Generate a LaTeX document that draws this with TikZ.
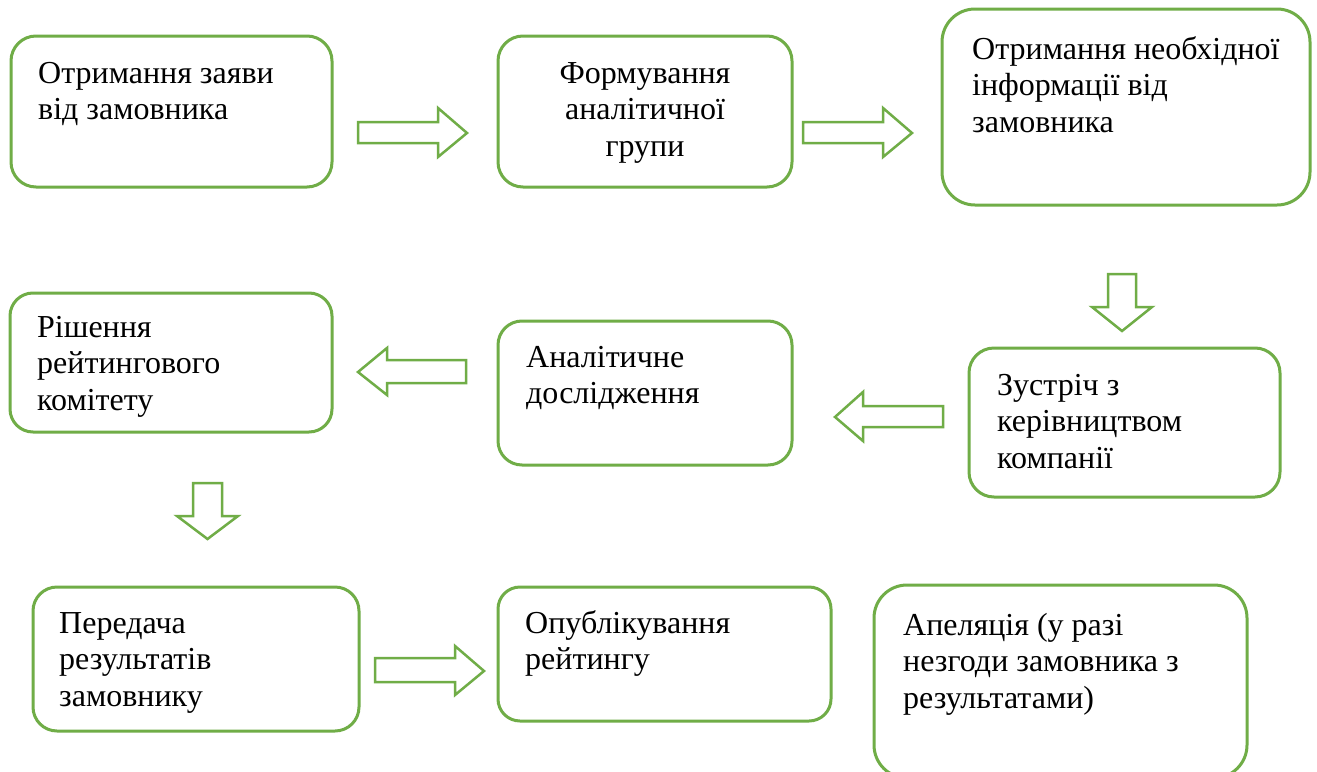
\documentclass[tikz,border=0pt]{standalone}
\usepackage{fontspec}
\setmainfont{Liberation Serif}
\definecolor{grn}{RGB}{112,173,71}
\tikzset{
  box/.style={draw=grn, line width=3pt, fill=white, rectangle, rounded corners=#1, inner sep=0pt},
  box/.default=25pt,
  txt/.style={inner sep=0pt, anchor=base west, font=\fontsize{32}{36.5}\selectfont},
  txtc/.style={inner sep=0pt, anchor=base, font=\fontsize{32}{36.5}\selectfont},
  blockarrow/.style={draw=grn, line width=2.5pt, fill=white, line join=miter}
}
\begin{document}
\begin{tikzpicture}[x=1pt,y=-1pt]
\useasboundingbox[fill=white] (0,0) rectangle (1317,771);
% boxes
\node[box=25pt, minimum width=321pt, minimum height=151pt] (b1) at (171.5,111.5) {};
\node[box=25pt, minimum width=294pt, minimum height=151pt] (b2) at (645,111.5) {};
\node[box=33pt, minimum width=368pt, minimum height=196pt] (b3) at (1126,107) {};
\node[box=23pt, minimum width=322pt, minimum height=139pt] (b4) at (171,362.5) {};
\node[box=24pt, minimum width=294pt, minimum height=144pt] (b5) at (645,393) {};
\node[box=25pt, minimum width=311pt, minimum height=149pt] (b6) at (1124.5,422.5) {};
\node[box=24pt, minimum width=326pt, minimum height=144pt] (b7) at (196,659) {};
\node[box=22pt, minimum width=333pt, minimum height=134pt] (b8) at (664.5,654) {};
\node[box=33pt, minimum width=373pt, minimum height=193pt] (b9) at (1060.5,681.5) {};
% texts
\node[txt] (t1) at (38,83) {\begin{tabular}[t]{@{}l@{}}Отримання заяви\\від замовника\end{tabular}};
\node[txtc] (t2) at (645,83) {\begin{tabular}[t]{@{}c@{}}Формування\\аналітичної\\групи\end{tabular}};
\node[txt] (t3) at (972,59) {\begin{tabular}[t]{@{}l@{}}Отримання необхідної\\інформації від\\замовника\end{tabular}};
\node[txt] (t4) at (37,337) {\begin{tabular}[t]{@{}l@{}}Рішення\\рейтингового\\комітету\end{tabular}};
\node[txt] (t5) at (526,367) {\begin{tabular}[t]{@{}l@{}}Аналітичне\\дослідження\end{tabular}};
\node[txt] (t6) at (997,395) {\begin{tabular}[t]{@{}l@{}}Зустріч з\\керівництвом\\компанії\end{tabular}};
\node[txt] (t7) at (59,633) {\begin{tabular}[t]{@{}l@{}}Передача\\результатів\\замовнику\end{tabular}};
\node[txt] (t8) at (525,633) {\begin{tabular}[t]{@{}l@{}}Опублікування\\рейтингу\end{tabular}};
\node[txt] (t9) at (903,635) {\begin{tabular}[t]{@{}l@{}}Апеляція (у разі\\незгоди замовника з\\результатами)\end{tabular}};
% block arrows
\draw[blockarrow] (358,122) -- (438,122) -- (438,108) -- (467,133) -- (438,157) -- (438,143) -- (358,143) -- cycle;
\draw[blockarrow] (803,122) -- (883,122) -- (883,108) -- (912,133) -- (883,157) -- (883,143) -- (803,143) -- cycle;
\draw[blockarrow] (1108,274) -- (1136,274) -- (1136,307) -- (1152,307) -- (1122,331) -- (1092,307) -- (1108,307) -- cycle;
\draw[blockarrow] (466,360) -- (387,360) -- (387,348) -- (358,372) -- (387,395) -- (387,383) -- (466,383) -- cycle;
\draw[blockarrow] (943,406) -- (863,406) -- (863,392) -- (835,417) -- (863,441) -- (863,427) -- (943,427) -- cycle;
\draw[blockarrow] (193,483) -- (222,483) -- (222,516) -- (238,516) -- (207.5,539) -- (177,516) -- (193,516) -- cycle;
\draw[blockarrow] (375,658) -- (455,658) -- (455,646) -- (484,671) -- (455,695) -- (455,682) -- (375,682) -- cycle;
\end{tikzpicture}
\end{document}
